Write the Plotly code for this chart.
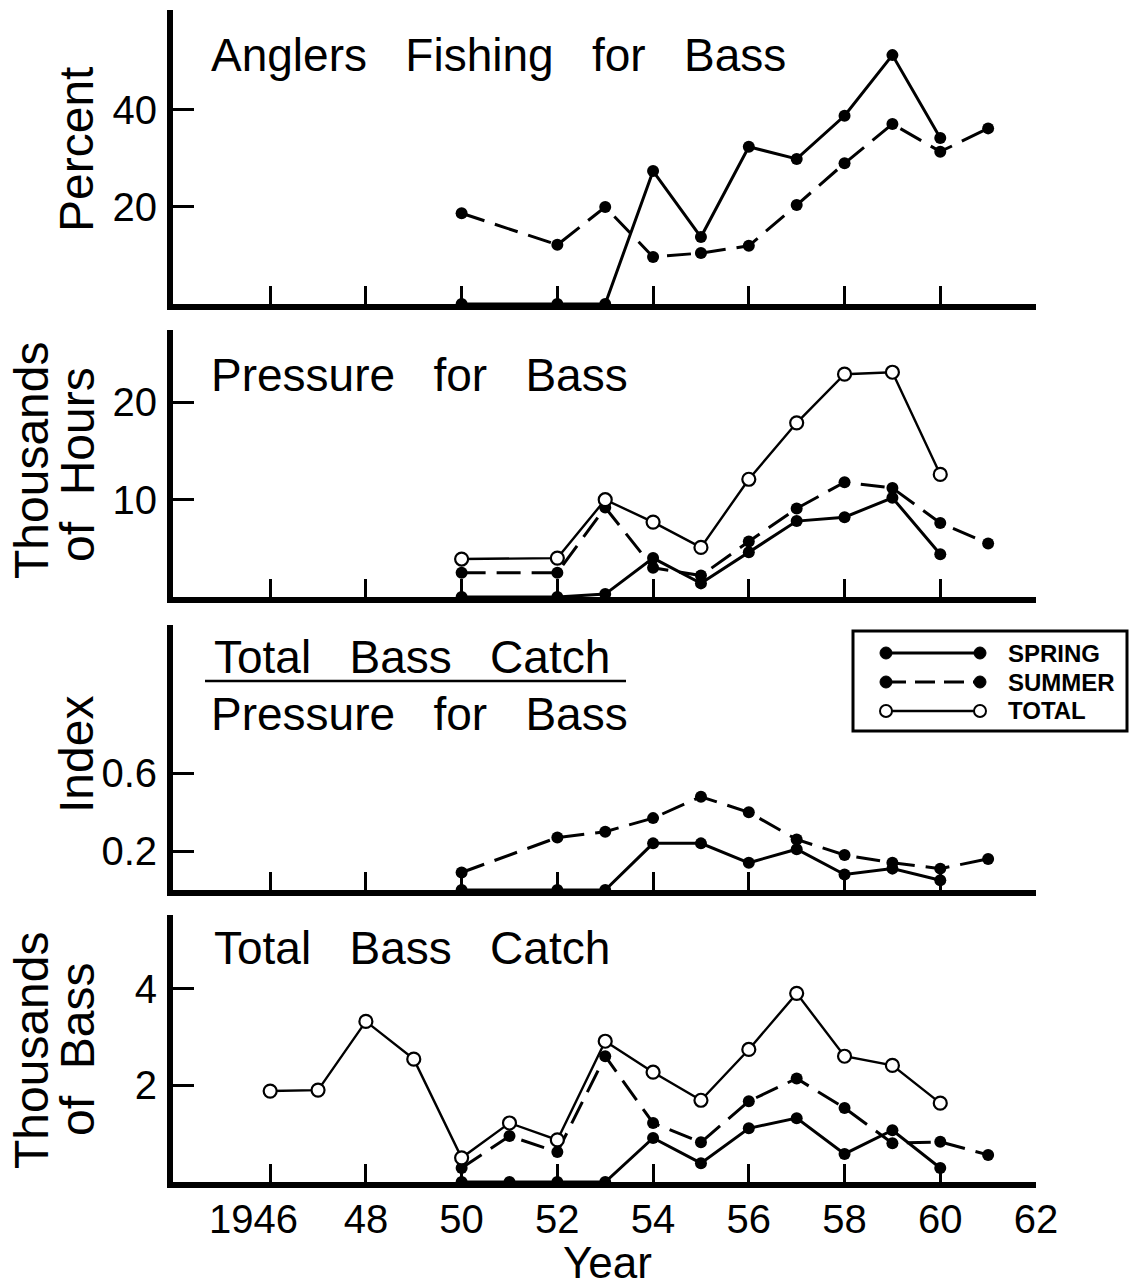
import plotly.graph_objects as go

W, H = 1131, 1288
FONT = "Liberation Sans, Arial, Helvetica, sans-serif"

# ---------------- data ----------------
x_tickvals = [1946, 1948, 1950, 1952, 1954, 1956, 1958, 1960, 1962]
x_ticktext = ["1946\u00a0\u00a0\u00a0", "48", "50", "52", "54", "56", "58", "60", "62"]

# Panel 1: Anglers fishing for bass (percent)
angl_spring_years = [1950, 1952, 1953, 1954, 1955, 1956, 1957, 1958, 1959, 1960]
angl_spring = [0, 0, 0, 27.4, 13.8, 32.4, 29.9, 38.8, 51.3, 34.2]
angl_summer_years = [1950, 1952, 1953, 1954, 1955, 1956, 1957, 1958, 1959, 1960, 1961]
angl_summer = [18.7, 12.2, 20.0, 9.7, 10.5, 12.0, 20.4, 29.0, 37.1, 31.4, 36.2]

# Panel 2: Pressure for bass (thousands of hours)
pres_spring_years = [1950, 1952, 1953, 1954, 1955, 1956, 1957, 1958, 1959, 1960]
pres_spring = [0, 0, 0.3, 4.0, 1.4, 4.6, 7.8, 8.2, 10.2, 4.4]
pres_summer_years = [1950, 1952, 1953, 1954, 1955, 1956, 1957, 1958, 1959, 1960, 1961]
pres_summer = [2.5, 2.5, 9.2, 3.0, 2.2, 5.7, 9.1, 11.8, 11.2, 7.6, 5.5]
pres_total_years = [1950, 1952, 1953, 1954, 1955, 1956, 1957, 1958, 1959, 1960]
pres_total = [3.9, 4.0, 10.0, 7.7, 5.1, 12.1, 17.9, 22.9, 23.1, 12.6]

# Panel 3: Index = total bass catch / pressure for bass
idx_spring_years = [1950, 1952, 1953, 1954, 1955, 1956, 1957, 1958, 1959, 1960]
idx_spring = [0, 0, 0, 0.24, 0.24, 0.14, 0.21, 0.08, 0.11, 0.05]
idx_summer_years = [1950, 1952, 1953, 1954, 1955, 1956, 1957, 1958, 1959, 1960, 1961]
idx_summer = [0.09, 0.27, 0.30, 0.37, 0.48, 0.40, 0.26, 0.18, 0.14, 0.11, 0.16]

# Panel 4: Total bass catch (thousands of bass)
catch_total_years = [1946, 1947, 1948, 1949, 1950, 1951, 1952, 1953, 1954,
                     1955, 1956, 1957, 1958, 1959, 1960]
catch_total = [1.88, 1.90, 3.32, 2.54, 0.50, 1.22, 0.87, 2.91, 2.27,
               1.69, 2.74, 3.90, 2.60, 2.41, 1.63]
catch_spring_years = [1950, 1951, 1952, 1953, 1954, 1955, 1956, 1957, 1958, 1959, 1960]
catch_spring = [0, 0, 0, 0, 0.91, 0.39, 1.11, 1.32, 0.58, 1.07, 0.29]
catch_summer_years = [1950, 1951, 1952, 1953, 1954, 1955, 1956, 1957, 1958, 1959, 1960, 1961]
catch_summer = [0.29, 0.95, 0.62, 2.60, 1.22, 0.82, 1.67, 2.14, 1.53, 0.80, 0.83, 0.56]

legend_labels = ["SPRING", "SUMMER", "TOTAL"]

# ---------------- helpers ----------------
def px(x):
    return x / W

def py(y):
    return 1 - y / H

SP = "\u00a0\u00a0\u00a0"

# panel layout: (top px, bottom px, y range max, tickvals, ticktext)
panels = [
    (10, 304, 60.6, [20, 40], ["20", "40"]),
    (330, 597, 27.44, [10, 20], ["10", "20"]),
    (625, 890, 1.364, [0.2, 0.6], ["0.2", "0.6"]),
    (915, 1182, 5.52, [2, 4], ["2", "4"]),
]
X_LEFT, X_RIGHT = 173, 1036
X_RANGE = [1943.97, 1962]

fig = go.Figure()

solid_line = dict(color="black", width=3)
dash_line = dict(color="black", width=3, dash="24px,11px")
total_line = dict(color="black", width=2.4)
fill_marker = dict(size=12, color="black")
open_marker = dict(size=13, color="white", line=dict(color="black", width=2.2))

def add(xs, ys, k, kind):
    ax = "" if k == 1 else str(k)
    if kind == "spring":
        line, marker = solid_line, fill_marker
    elif kind == "summer":
        line, marker = dash_line, fill_marker
    else:
        line, marker = total_line, open_marker
    fig.add_trace(go.Scatter(x=xs, y=ys, xaxis="x" + ax, yaxis="y" + ax,
                             mode="lines+markers", line=line, marker=marker,
                             cliponaxis=False, showlegend=False, hoverinfo="x+y"))

add(angl_summer_years, angl_summer, 1, "summer")
add(angl_spring_years, angl_spring, 1, "spring")

add(pres_summer_years, pres_summer, 2, "summer")
add(pres_spring_years, pres_spring, 2, "spring")
add(pres_total_years, pres_total, 2, "total")

add(idx_summer_years, idx_summer, 3, "summer")
add(idx_spring_years, idx_spring, 3, "spring")

add(catch_summer_years, catch_summer, 4, "summer")
add(catch_spring_years, catch_spring, 4, "spring")
add(catch_total_years, catch_total, 4, "total")

layout = dict(
    template="none",
    width=W, height=H, autosize=False,
    margin=dict(l=0, r=0, t=0, b=0, pad=0, autoexpand=False),
    paper_bgcolor="white", plot_bgcolor="white",
    font=dict(family=FONT, color="black"),
    showlegend=False,
)

for i, (top, bot, ymax, tv, tt) in enumerate(panels, start=1):
    sfx = "" if i == 1 else str(i)
    layout["xaxis" + sfx] = dict(
        domain=[px(X_LEFT), px(X_RIGHT)], range=X_RANGE, automargin=False,
        anchor="y" + sfx, showline=True, linewidth=6, linecolor="black",
        ticks="inside", ticklen=18, tickwidth=3, tickcolor="black",
        tickvals=x_tickvals, ticktext=x_ticktext,
        showticklabels=(i == 4), tickfont=dict(size=40, family=FONT),
        ticklabelstandoff=-3,
        showgrid=False, zeroline=False, fixedrange=True,
    )
    layout["yaxis" + sfx] = dict(
        domain=[py(bot), py(top)], range=[0, ymax], automargin=False,
        anchor="x" + sfx, showline=True, linewidth=6, linecolor="black",
        ticks="inside", ticklen=21, tickwidth=3, tickcolor="black",
        tickvals=tv, ticktext=tt, tickfont=dict(size=40, family=FONT),
        ticklabelstandoff=2,
        showgrid=False, zeroline=False, fixedrange=True,
    )

fig.update_layout(**layout)

ann = []
def text(x, y, s, size=46, xanchor="left", angle=0, bold=False):
    ann.append(dict(x=px(x), y=py(y), xref="paper", yref="paper", text=s,
                    showarrow=False, xanchor=xanchor, yanchor="middle",
                    textangle=angle,
                    font=dict(size=size, family=FONT, color="black",
                              weight="bold" if bold else "normal")))

# panel titles
text(209, 55, "Anglers" + SP + "Fishing" + SP + "for" + SP + "Bass")
text(209, 375, "Pressure" + SP + "for" + SP + "Bass")
text(212, 657, "Total" + SP + "Bass" + SP + "Catch")
text(209, 714, "Pressure" + SP + "for" + SP + "Bass")
text(212, 948, "Total" + SP + "Bass" + SP + "Catch")

# y axis titles
text(76, 150, "Percent", size=48, xanchor="center", angle=-90)
text(31, 460, "Thousands", size=48, xanchor="center", angle=-90)
text(77, 465, "of" + "\u00a0\u00a0" + "Hours", size=48, xanchor="center", angle=-90)
text(77, 755, "Index", size=48, xanchor="center", angle=-90)
text(31, 1050, "Thousands", size=48, xanchor="center", angle=-90)
text(77, 1050, "of" + "\u00a0\u00a0" + "Bass", size=48, xanchor="center", angle=-90)

# x axis title
text(607, 1262, "Year", size=44, xanchor="center")

# legend texts
legend_rows = [653, 682, 711]
for lab, yy in zip(legend_labels, legend_rows):
    text(1006, yy, lab, size=24, bold=True)

fig.update_layout(annotations=ann)

shapes = []
# fraction bar
shapes.append(dict(type="line", xref="paper", yref="paper",
                   x0=px(205), x1=px(626), y0=py(681), y1=py(681),
                   line=dict(color="black", width=2.5)))
# legend box
shapes.append(dict(type="rect", xref="paper", yref="paper",
                   x0=px(853), x1=px(1127), y0=py(731), y1=py(631),
                   line=dict(color="black", width=3), fillcolor="white",
                   layer="below"))
r = 6
for j, yy in enumerate(legend_rows):
    lw = 2.4 if j == 2 else 3
    shapes.append(dict(type="line", xref="paper", yref="paper",
                       x0=px(886), x1=px(980), y0=py(yy), y1=py(yy),
                       line=dict(color="black", width=lw,
                                 dash="20px,9px" if j == 1 else "solid")))
    for cx in (886, 980):
        if j < 2:
            shapes.append(dict(type="circle", xref="paper", yref="paper",
                               x0=px(cx - r), x1=px(cx + r),
                               y0=py(yy + r), y1=py(yy - r),
                               fillcolor="black", line=dict(color="black", width=1)))
        else:
            shapes.append(dict(type="circle", xref="paper", yref="paper",
                               x0=px(cx - r), x1=px(cx + r),
                               y0=py(yy + r), y1=py(yy - r),
                               fillcolor="white", line=dict(color="black", width=2)))
fig.update_layout(shapes=shapes)

fig.write_html(
    "out.html", include_plotlyjs=True,
    config={"displayModeBar": False, "responsive": False},
    post_script="document.body.style.margin='0px';"
                "document.body.style.padding='0px';"
                "document.body.style.overflow='hidden';"
                "document.documentElement.style.overflow='hidden';",
)
